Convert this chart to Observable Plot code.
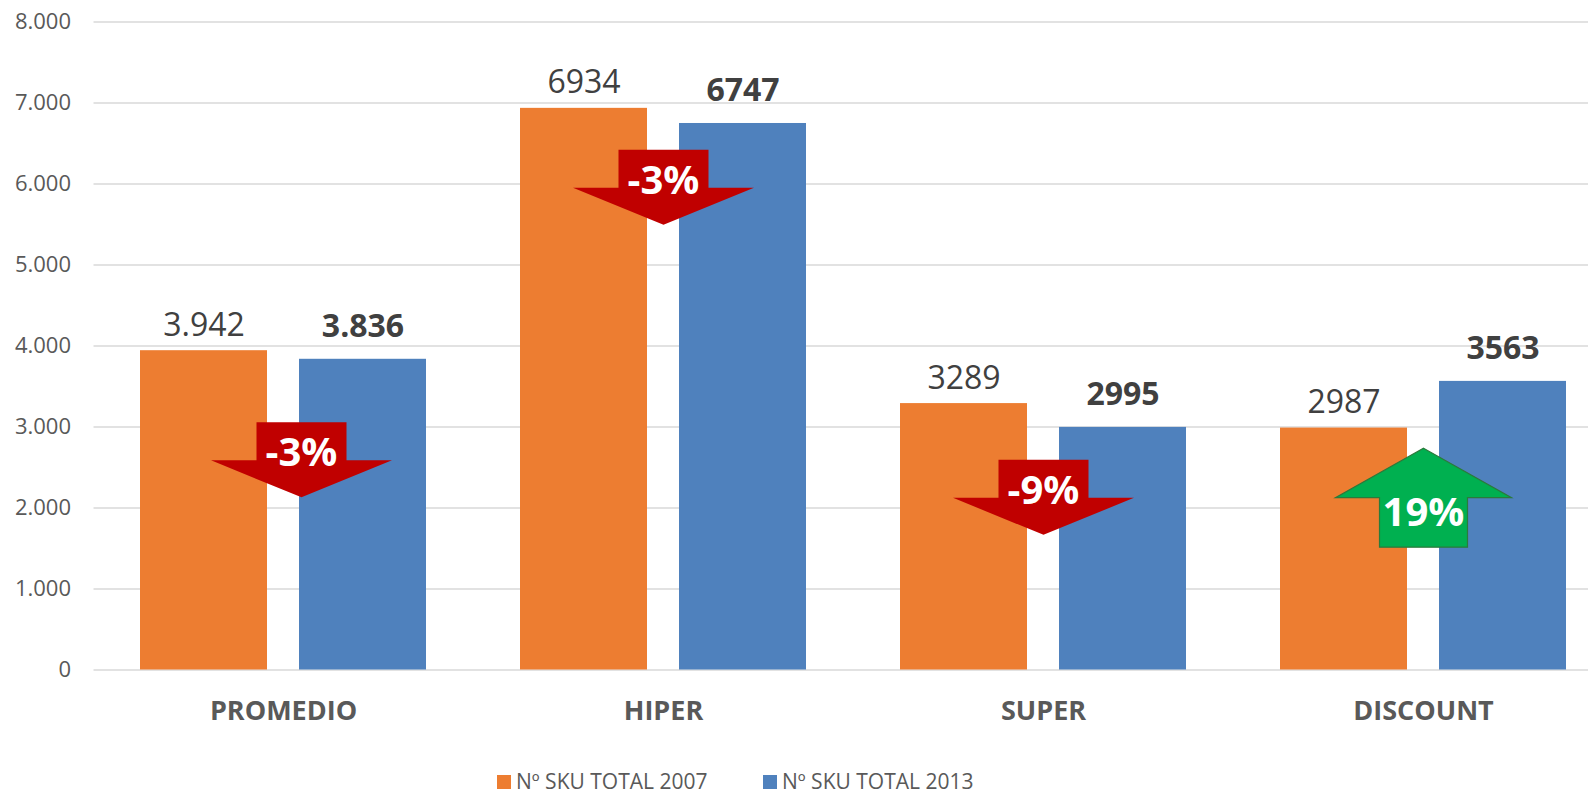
<!DOCTYPE html>
<html>
<head>
<meta charset="utf-8">
<script src="https://cdn.jsdelivr.net/npm/d3@7"></script>
<script src="https://cdn.jsdelivr.net/npm/@observablehq/plot@0.6"></script>
<style>
html,body{margin:0;padding:0;background:#fff;overflow:hidden;}
#wrap{position:relative;width:1593px;height:796px;overflow:hidden;font-family:"Open Sans",sans-serif;}
.item{position:absolute;top:771px;height:21px;line-height:21px;display:flex;align-items:center;font-size:21px;color:#595959;white-space:nowrap;}
.sw{width:14px;height:14px;margin-right:5px;margin-top:1px;}
</style>
</head>
<body>
<div id="wrap"><div id="chart"></div></div>
<script>
// ---- data ----
const categories = ["PROMEDIO", "HIPER", "SUPER", "DISCOUNT"];
const seriesNames = ["Nº SKU TOTAL 2007", "Nº SKU TOTAL 2013"];
const values2007 = [3942, 6934, 3289, 2987];
const values2013 = [3836, 6747, 2995, 3563];
const labels2007 = ["3.942", "6934", "3289", "2987"];
const labels2013 = ["3.836", "6747", "2995", "3563"];
const changeLabels = ["-3%", "-3%", "-9%", "19%"];
const changeDirection = ["down", "down", "down", "up"];
const changeAnchor = [2595, 5960, 2132, 2127];
const yTicks = [0, 1000, 2000, 3000, 4000, 5000, 6000, 7000, 8000];
const yTickLabels = ["0", "1.000", "2.000", "3.000", "4.000", "5.000", "6.000", "7.000", "8.000"];

// ---- styles / layout ----
const colors = ["#ed7d31", "#4f81bd"];
const arrowNudge = {PROMEDIO: 18}; // horizontal pixel nudge of an annotation arrow

const rows = categories.map((c, i) => ({
  category: c,
  v2007: values2007[i], v2013: values2013[i],
  l2007: labels2007[i], l2013: labels2013[i],
  change: changeLabels[i], dir: changeDirection[i], anchor: changeAnchor[i]
}));

const downArrow = {
  draw(ctx) {
    ctx.moveTo(-45, -37.5); ctx.lineTo(45, -37.5); ctx.lineTo(45, 0.5);
    ctx.lineTo(90.5, 0.5); ctx.lineTo(0, 37.5); ctx.lineTo(-90.5, 0.5);
    ctx.lineTo(-45, 0.5); ctx.closePath();
  }
};
const upArrow = {
  draw(ctx) {
    ctx.moveTo(0, -49.5); ctx.lineTo(88, 0); ctx.lineTo(44, 0);
    ctx.lineTo(44, 49.5); ctx.lineTo(-44, 49.5); ctx.lineTo(-44, 0);
    ctx.lineTo(-88, 0); ctx.closePath();
  }
};

function arrowMarks(dir) {
  const sel = rows.filter(d => d.dir === dir);
  const groups = d3.groups(sel, d => arrowNudge[d.category] || 0);
  const out = [];
  for (const [dx, data] of groups) {
    if (dir === "down") {
      out.push(Plot.dot(data, {x: "category", y: "anchor", symbol: downArrow, fill: "#c00000", stroke: "none", r: 10, dx}));
      out.push(Plot.text(data, {x: "category", y: "anchor", text: "change", fill: "white", fontSize: 40, fontWeight: "bold", dx, dy: -6.5}));
    } else {
      out.push(Plot.dot(data, {x: "category", y: "anchor", symbol: upArrow, fill: "#00b050", stroke: "#2b7a3b", strokeWidth: 1.2, r: 10, dx}));
      out.push(Plot.text(data, {x: "category", y: "anchor", text: "change", fill: "white", fontSize: 40, fontWeight: "bold", dx, dy: 15.5}));
    }
  }
  return out;
}

const chart = Plot.plot({
  width: 1593,
  height: 768,
  marginLeft: 93.5,
  marginRight: 5,
  marginTop: 21.5,
  marginBottom: 98.5,
  style: {fontFamily: "'Open Sans', sans-serif", background: "white", overflow: "visible"},
  x: {type: "band", domain: categories, range: [93, 1613], padding: 0, axis: null, label: null},
  y: {domain: [0, 8000], axis: null, label: null},
  marks: [
    Plot.ruleY(yTicks, {stroke: "#d9d9d9", strokeWidth: 1.3}),
    Plot.axisY({ticks: yTicks, tickSize: 0, tickPadding: 23, label: null,
      tickFormat: d => yTickLabels[yTicks.indexOf(d)], fontSize: 22, color: "#595959"}),
    Plot.axisX({tickSize: 0, tickPadding: 31, label: null, fontSize: 27, fontWeight: "bold", color: "#595959"}),
    Plot.barY(rows, {x: "category", y: "v2007", fill: colors[0], insetLeft: 47, insetRight: 206}),
    Plot.barY(rows, {x: "category", y: "v2013", fill: colors[1], insetLeft: 206, insetRight: 47}),
    ...arrowMarks("down"),
    ...arrowMarks("up"),
    Plot.text(rows, {x: "category", y: "v2007", text: "l2007", dx: -79.5, dy: -15, lineAnchor: "bottom", fontSize: 32, fill: "#404040"}),
    Plot.text(rows, {x: "category", y: "v2013", text: "l2013", dx: 79.5, dy: -22, lineAnchor: "bottom", fontSize: 32, fontWeight: "bold", fill: "#404040"})
  ]
});

const wrap = document.getElementById("wrap");
document.getElementById("chart").appendChild(chart);

const legendLeft = [497, 763];
seriesNames.forEach((name, i) => {
  const item = document.createElement("div");
  item.className = "item";
  item.style.left = legendLeft[i] + "px";
  const sw = document.createElement("span");
  sw.className = "sw";
  sw.style.background = colors[i];
  const t = document.createElement("span");
  t.textContent = name;
  item.appendChild(sw);
  item.appendChild(t);
  wrap.appendChild(item);
});
</script>
</body>
</html>
